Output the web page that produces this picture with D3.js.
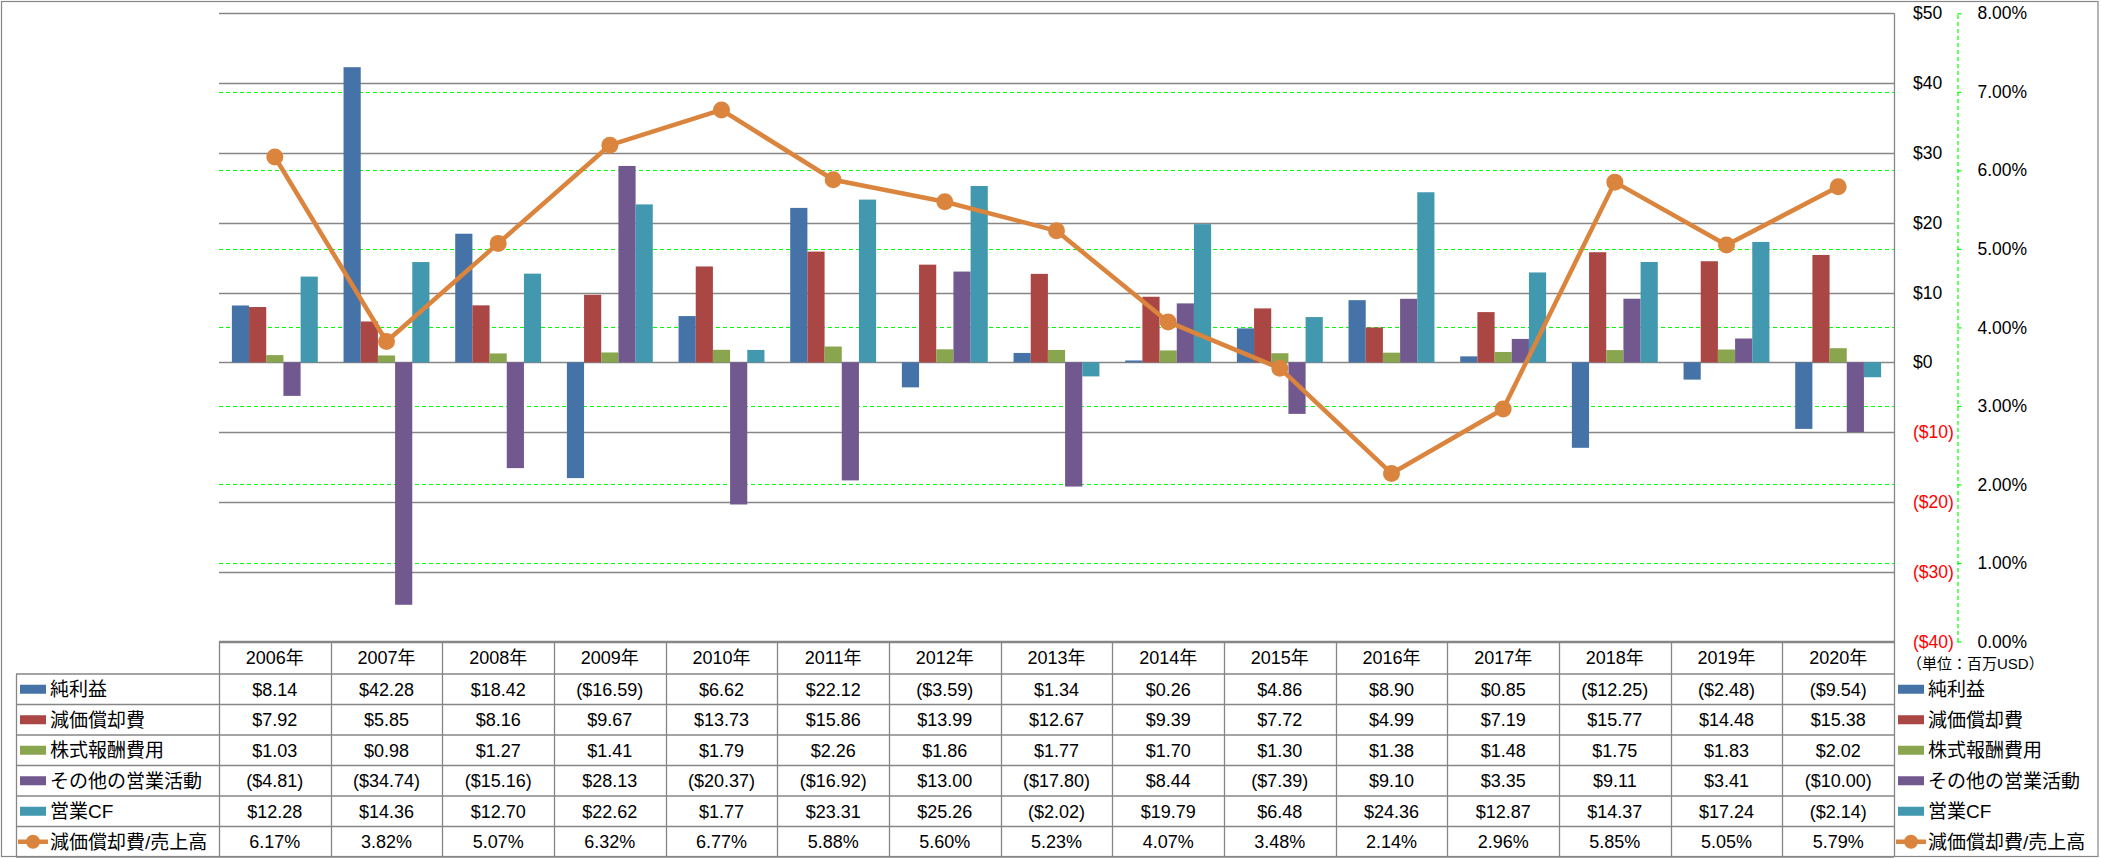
<!DOCTYPE html>
<html><head><meta charset="utf-8">
<script src="https://cdn.jsdelivr.net/npm/d3@7"></script>
<style>
body{margin:0;background:#fff}
svg{display:block}
text{font-family:"Liberation Sans","Noto Sans CJK JP",sans-serif;fill:#000}
</style>
</head><body>
<svg id="c" width="2101" height="858"></svg>
<script>
// ---------- data ----------
const years = ["2006年","2007年","2008年","2009年","2010年","2011年","2012年","2013年","2014年","2015年","2016年","2017年","2018年","2019年","2020年"];
const netIncome    = [8.14, 42.28, 18.42, -16.59, 6.62, 22.12, -3.59, 1.34, 0.26, 4.86, 8.90, 0.85, -12.25, -2.48, -9.54];
const depreciation = [7.92, 5.85, 8.16, 9.67, 13.73, 15.86, 13.99, 12.67, 9.39, 7.72, 4.99, 7.19, 15.77, 14.48, 15.38];
const stockComp    = [1.03, 0.98, 1.27, 1.41, 1.79, 2.26, 1.86, 1.77, 1.70, 1.30, 1.38, 1.48, 1.75, 1.83, 2.02];
const otherOps     = [-4.81, -34.74, -15.16, 28.13, -20.37, -16.92, 13.00, -17.80, 8.44, -7.39, 9.10, 3.35, 9.11, 3.41, -10.00];
const operatingCF  = [12.28, 14.36, 12.70, 22.62, 1.77, 23.31, 25.26, -2.02, 19.79, 6.48, 24.36, 12.87, 14.37, 17.24, -2.14];
const depRatio     = [0.0617, 0.0382, 0.0507, 0.0632, 0.0677, 0.0588, 0.0560, 0.0523, 0.0407, 0.0348, 0.0214, 0.0296, 0.0585, 0.0505, 0.0579];
const seriesNames = ["純利益","減価償却費","株式報酬費用","その他の営業活動","営業CF"];
const lineName = "減価償却費/売上高";
const unitLabel = "（単位：百万USD）";
const dollarTicks = [-40,-30,-20,-10,0,10,20,30,40,50];
const pctTicks = [0,0.01,0.02,0.03,0.04,0.05,0.06,0.07,0.08];

const barSeries = [netIncome, depreciation, stockComp, otherOps, operatingCF];
const colors = ["#4572A7","#AA4643","#89A54E","#71588F","#4198AF"];
const lineColor = "#DB843D";

// ---------- layout ----------
const svg = d3.select("#c");
const plotL = 219, plotR = 1894, plotT = 13.3, plotB = 641.5;
const tableTop = 641.5, headH = 32.5, rowH = 30.5, labelL = 16;
const gridColor = "#868686";

const x = d3.scaleBand().domain(years).range([plotL, plotR]);
const xs = d3.scaleBand().domain(d3.range(barSeries.length)).range([0, x.bandwidth()]).paddingOuter(0.75);
const y = d3.scaleLinear().domain([-40, 50]).range([plotB, plotT]);
const yp = d3.scaleLinear().domain([0, 0.08]).range([plotB, plotT]);

// outer border
svg.append("rect").attr("x",1.5).attr("y",1.5).attr("width",2096.5).attr("height",855)
  .attr("fill","none").attr("stroke",gridColor).attr("stroke-width",1.2);

// gray gridlines (dollar axis)
svg.append("g").selectAll("line").data(dollarTicks).join("line")
  .attr("x1",plotL).attr("x2",plotR)
  .attr("y1",d=>Math.round(y(d))+0.5).attr("y2",d=>Math.round(y(d))+0.5)
  .attr("stroke",gridColor).attr("stroke-width",1.3);

// green dashed gridlines (pct axis)
svg.append("g").selectAll("line").data(pctTicks.filter(d=>d>0 && d<0.08)).join("line")
  .attr("x1",plotL).attr("x2",plotR)
  .attr("y1",d=>Math.round(yp(d))+0.5).attr("y2",d=>Math.round(yp(d))+0.5)
  .attr("stroke","#00FF00").attr("stroke-width",1.2).attr("stroke-dasharray","4,3");

// bars
const bars = svg.append("g");
barSeries.forEach((vals, si) => {
  bars.append("g").attr("fill", colors[si]).selectAll("rect").data(vals).join("rect")
    .attr("x",(d,i)=>x(years[i]) + xs(si))
    .attr("width", xs.bandwidth())
    .attr("y", d=>Math.min(y(d), y(0)))
    .attr("height", d=>Math.abs(y(d)-y(0)));
});

// line series
const line = d3.line().x((d,i)=>x(years[i]) + x.bandwidth()/2).y(d=>yp(d));
svg.append("path").datum(depRatio).attr("d", line)
  .attr("fill","none").attr("stroke",lineColor).attr("stroke-width",4.5).attr("stroke-linejoin","round");
svg.append("g").selectAll("circle").data(depRatio).join("circle")
  .attr("cx",(d,i)=>x(years[i]) + x.bandwidth()/2).attr("cy",d=>yp(d)).attr("r",8.5)
  .attr("fill",lineColor);

// dollar axis labels (right)
const yAxis = d3.axisRight(y).tickValues(dollarTicks).tickSize(0).tickPadding(0)
  .tickFormat(d => d < 0 ? `($${Math.abs(d)})` : `$${d}`);
const ga = svg.append("g").attr("transform","translate(1913,0)").call(yAxis);
ga.select(".domain").remove();
ga.selectAll("text").attr("font-size",17.5).style("font-family",null)
  .attr("fill",d=>d<0?"#FF0000":"#000").style("fill",d=>d<0?"#FF0000":"#000");

// percent axis (secondary)
const pAxis = d3.axisRight(yp).tickValues(pctTicks).tickSizeInner(4).tickSizeOuter(0).tickPadding(16)
  .tickFormat(d3.format(".2%"));
const gp = svg.append("g").attr("transform","translate(1957.5,0)").call(pAxis);
gp.select(".domain").attr("stroke","#00FF00").attr("stroke-width",1.2).attr("stroke-dasharray","4,3");
gp.selectAll(".tick line").attr("stroke","#00FF00").attr("stroke-width",1.2);
gp.selectAll("text").attr("font-size",17.5).style("font-family",null);

// unit label
svg.append("text").attr("x",1907).attr("y",664).attr("dy","0.35em")
  .attr("font-size",15).text(unitLabel);

// ---------- data table ----------
const tbl = svg.append("g");
const rowY = k => tableTop + headH + k*rowH;   // top of body row k
const nRows = seriesNames.length + 1;
// horizontal lines
tbl.append("line").attr("x1",plotL).attr("x2",plotR).attr("y1",tableTop).attr("y2",tableTop)
  .attr("stroke",gridColor).attr("stroke-width",1.3);
tbl.selectAll("line.h").data(d3.range(nRows+1)).join("line").attr("class","h")
  .attr("x1",labelL).attr("x2",plotR)
  .attr("y1",k=>rowY(k)).attr("y2",k=>rowY(k))
  .attr("stroke",gridColor).attr("stroke-width",1.3);
// vertical lines
tbl.selectAll("line.v").data(years).join("line").attr("class","v")
  .attr("x1",d=>Math.round(x(d))+0.5).attr("x2",d=>Math.round(x(d))+0.5)
  .attr("y1",tableTop).attr("y2",rowY(nRows))
  .attr("stroke",gridColor).attr("stroke-width",1.3);
tbl.append("line").attr("x1",plotR+0.5).attr("x2",plotR+0.5).attr("y1",plotT).attr("y2",856.5)
  .attr("stroke",gridColor).attr("stroke-width",1.3);
tbl.append("line").attr("x1",labelL+0.5).attr("x2",labelL+0.5).attr("y1",rowY(0)).attr("y2",rowY(nRows))
  .attr("stroke",gridColor).attr("stroke-width",1.3);

// header
tbl.selectAll("text.hd").data(years).join("text").attr("class","hd")
  .attr("x",d=>x(d)+x.bandwidth()/2).attr("y",tableTop+headH/2).attr("dy","0.36em")
  .attr("text-anchor","middle").attr("font-size",18).text(d=>d);

const money = v => v < 0 ? `($${d3.format(".2f")(-v)})` : `$${d3.format(".2f")(v)}`;
const pct = d3.format(".2%");
barSeries.forEach((vals, si) => {
  tbl.append("g").selectAll("text").data(vals).join("text")
    .attr("x",(d,i)=>x(years[i])+x.bandwidth()/2).attr("y",rowY(si)+rowH/2).attr("dy","0.36em")
    .attr("text-anchor","middle").attr("font-size",18).text(money);
});
tbl.append("g").selectAll("text").data(depRatio).join("text")
  .attr("x",(d,i)=>x(years[i])+x.bandwidth()/2).attr("y",rowY(seriesNames.length)+rowH/2).attr("dy","0.36em")
  .attr("text-anchor","middle").attr("font-size",18).text(pct);

// legends (inside table on left, and on right)
function legend(keyX, textX) {
  const g = svg.append("g");
  seriesNames.forEach((name, si) => {
    const cy = rowY(si) + rowH/2;
    g.append("rect").attr("x",keyX).attr("y",cy-4.5).attr("width",26).attr("height",9).attr("fill",colors[si]);
    g.append("text").attr("x",textX).attr("y",cy).attr("dy","0.36em").attr("font-size",19).text(name);
  });
  const cy = rowY(seriesNames.length) + rowH/2;
  g.append("line").attr("x1",keyX-2).attr("x2",keyX+28).attr("y1",cy).attr("y2",cy)
    .attr("stroke",lineColor).attr("stroke-width",4.5);
  g.append("circle").attr("cx",keyX+13).attr("cy",cy).attr("r",7).attr("fill",lineColor);
  g.append("text").attr("x",textX).attr("y",cy).attr("dy","0.36em").attr("font-size",19).text(lineName);
}
legend(20, 50);
legend(1898, 1928);
</script>
</body></html>
